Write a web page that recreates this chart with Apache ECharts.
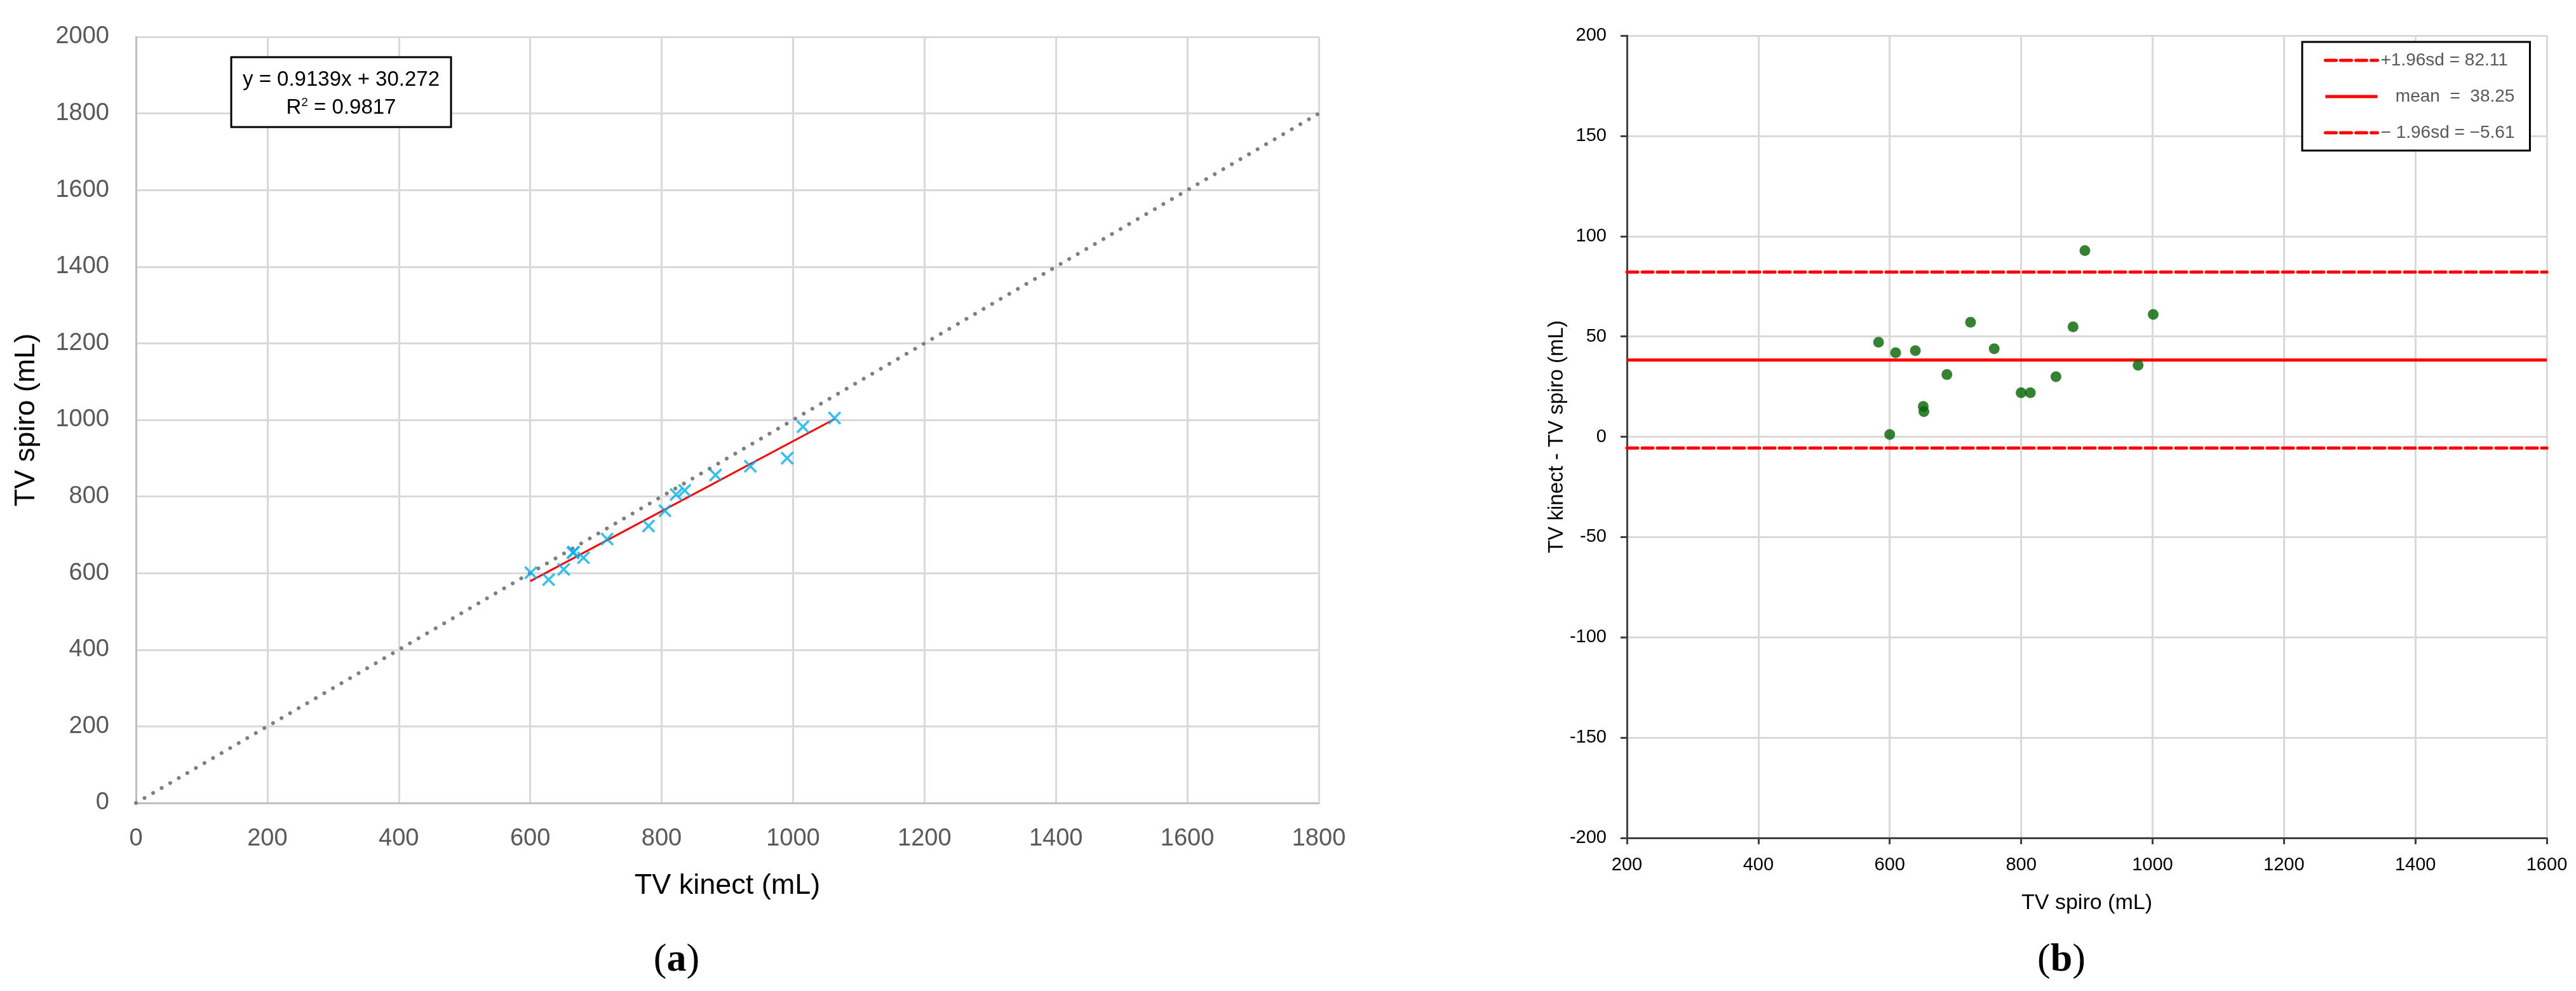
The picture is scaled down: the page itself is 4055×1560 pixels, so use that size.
<!DOCTYPE html>
<html>
<head>
<meta charset="utf-8">
<script src="https://cdn.jsdelivr.net/npm/echarts@6/dist/echarts.min.js"></script>
<style>
  html, body { margin: 0; padding: 0; background: #fff; }
  #chart { width: 4055px; height: 1560px; }
</style>
</head>
<body>
<div id="chart"></div>
<script>
// (a) TV kinect vs TV spiro
var kinectA = [601, 628, 651, 666, 665, 681, 717, 780, 805, 822, 835, 882, 935, 991, 1015, 1063];
var spiroA  = [601, 583, 610, 655, 653, 640, 689, 723, 763, 805, 816, 856, 879, 900, 982, 1005];
var identityX = [0, 1800];
var identityY = [0, 1800];
var trendX = [600, 1063];
var trendY = [579, 1002];
var eqText = 'y = 0.9139x + 30.272';
var r2Text = '0.9817';

// (b) Bland-Altman
var spiroB = [583, 609, 639, 651, 652, 687, 600, 723, 759, 800, 814, 853, 879, 897, 978, 1001];
var diffB  = [47.1, 41.9, 42.9, 15.1, 12.5, 31.0, 1.1, 57.1, 43.9, 21.9, 21.9, 29.9, 54.8, 92.8, 35.6, 61.0];
var limitNames  = ['+1.96sd = 82.11', '   mean  =  38.25', '\u2212 1.96sd = \u22125.61'];
var limitValues = [82.11, 38.25, -5.61];
var limitRange  = [200, 1600];

var FONT = 'Liberation Sans, Arial, sans-serif';
var SERIF = 'Liberation Serif, Times New Roman, serif';

function zip(a, b) {
  return a.map(function (v, i) { return [v, b[i]]; });
}
function plain(v) { return String(v); }

// X marker drawn as a filled polygon
var crossPath = 'path://M0,1.2L1.2,0L5,3.8L8.8,0L10,1.2L6.2,5L10,8.8L8.8,10L5,6.2L1.2,10L0,8.8L3.8,5Z';

var chart = echarts.init(document.getElementById('chart'));

var limitSeries = limitValues.map(function (v, i) {
  return {
    name: limitNames[i],
    type: 'line',
    xAxisIndex: 1,
    yAxisIndex: 1,
    symbol: 'none',
    silent: true,
    data: limitRange.map(function (x) { return [x, v]; }),
    itemStyle: { color: '#ff0000' },
    lineStyle: {
      color: '#ff0000',
      width: 5,
      type: i === 1 ? 'solid' : [17, 7],
      cap: i === 1 ? 'butt' : 'round'
    },
    z: 2
  };
});

var option = {
  backgroundColor: '#fff',
  animation: false,
  grid: [
    { left: 214, top: 58, width: 1862, height: 1206, containLabel: false },
    { left: 2561, top: 56, width: 1448, height: 1263, containLabel: false }
  ],
  xAxis: [{
    gridIndex: 0,
    type: 'value',
    min: 0, max: 1800, interval: 200,
    name: 'TV kinect (mL)',
    nameLocation: 'middle',
    nameGap: 108,
    nameTextStyle: { fontFamily: FONT, fontSize: 45, color: '#000' },
    axisLine: { show: true, lineStyle: { color: '#bfbfbf', width: 3 } },
    axisTick: { show: false },
    axisLabel: { fontFamily: FONT, fontSize: 38, color: '#595959', margin: 38, formatter: plain },
    splitLine: { show: true, lineStyle: { color: '#d9d9d9', width: 3 } }
  }, {
    gridIndex: 1,
    type: 'value',
    min: 200, max: 1600, interval: 200,
    name: 'TV spiro (mL)',
    nameLocation: 'middle',
    nameGap: 86,
    nameTextStyle: { fontFamily: FONT, fontSize: 34, color: '#000' },
    axisLine: { show: true, onZero: false, lineStyle: { color: '#404040', width: 3 } },
    axisTick: { show: true, length: 10, lineStyle: { color: '#404040', width: 3 } },
    axisLabel: { fontFamily: FONT, fontSize: 29, color: '#000', margin: 28, formatter: plain },
    splitLine: { show: true, lineStyle: { color: '#d9d9d9', width: 3 } }
  }],
  yAxis: [{
    gridIndex: 0,
    type: 'value',
    min: 0, max: 2000, interval: 200,
    name: 'TV spiro (mL)',
    nameLocation: 'middle',
    nameGap: 150,
    nameTextStyle: { fontFamily: FONT, fontSize: 45, color: '#000' },
    axisLine: { show: true, lineStyle: { color: '#bfbfbf', width: 3 } },
    axisTick: { show: false },
    axisLabel: { fontFamily: FONT, fontSize: 38, color: '#595959', margin: 42, formatter: plain },
    splitLine: { show: true, lineStyle: { color: '#d9d9d9', width: 3 } }
  }, {
    gridIndex: 1,
    type: 'value',
    min: -200, max: 200, interval: 50,
    name: 'TV kinect - TV spiro (mL)',
    nameLocation: 'middle',
    nameGap: 90,
    nameTextStyle: { fontFamily: FONT, fontSize: 33, color: '#000' },
    axisLine: { show: true, onZero: false, lineStyle: { color: '#404040', width: 3 } },
    axisTick: { show: true, length: 10, lineStyle: { color: '#404040', width: 3 } },
    axisLabel: { fontFamily: FONT, fontSize: 29, color: '#000', margin: 32, formatter: plain },
    splitLine: { show: true, lineStyle: { color: '#d9d9d9', width: 3 } }
  }],
  legend: {
    data: limitNames,
    orient: 'vertical',
    left: 3624,
    top: 66,
    width: 378,
    padding: [15, 24, 14, 34],
    itemWidth: 82,
    itemHeight: 14,
    itemGap: 29,
    borderColor: '#000',
    borderWidth: 3,
    backgroundColor: '#fff',
    selectedMode: false,
    itemStyle: { opacity: 0 },
    lineStyle: { width: 5 },
    textStyle: { fontFamily: FONT, fontSize: 28, color: '#595959' }
  },
  series: [{
    name: 'identity',
    type: 'line',
    xAxisIndex: 0,
    yAxisIndex: 0,
    symbol: 'none',
    silent: true,
    data: zip(identityX, identityY),
    lineStyle: { color: '#7f7f7f', width: 6, type: [0.1, 15.5], cap: 'round' },
    z: 2
  }, {
    name: 'trend',
    type: 'line',
    xAxisIndex: 0,
    yAxisIndex: 0,
    symbol: 'none',
    silent: true,
    data: zip(trendX, trendY),
    lineStyle: { color: '#ff0000', width: 3 },
    z: 3
  }, {
    name: 'kinect vs spiro',
    type: 'scatter',
    xAxisIndex: 0,
    yAxisIndex: 0,
    symbol: crossPath,
    symbolSize: 21,
    itemStyle: { color: '#00b0f0' },
    data: zip(kinectA, spiroA),
    z: 4
  }].concat(limitSeries).concat([{
    name: 'difference',
    type: 'scatter',
    xAxisIndex: 1,
    yAxisIndex: 1,
    symbol: 'circle',
    symbolSize: 17,
    itemStyle: { color: '#006400' },
    data: zip(spiroB, diffB),
    z: 4
  }]),
  graphic: [{
    type: 'rect',
    shape: { x: 364, y: 90, width: 346, height: 110 },
    style: { fill: '#fff', stroke: '#000', lineWidth: 3 },
    z: 10
  }, {
    type: 'text',
    x: 537, y: 126,
    style: {
      text: eqText,
      fontFamily: FONT, fontSize: 33, fill: '#000',
      align: 'center', verticalAlign: 'middle'
    },
    z: 11
  }, {
    type: 'text',
    x: 537, y: 170,
    style: {
      text: '{r|R}{s|2}{r| = ' + r2Text + '}',
      align: 'center', verticalAlign: 'middle',
      rich: {
        r: { fontFamily: FONT, fontSize: 33, fill: '#000', lineHeight: 36 },
        s: { fontFamily: FONT, fontSize: 19, fill: '#000', verticalAlign: 'top', lineHeight: 36 }
      }
    },
    z: 11
  }, {
    type: 'text',
    x: 1065, y: 1512,
    style: {
      text: '{p|(}{b|a}{p|)}',
      align: 'center', verticalAlign: 'middle',
      rich: {
        p: { fontFamily: SERIF, fontSize: 62, fill: '#000' },
        b: { fontFamily: SERIF, fontSize: 62, fontWeight: 'bold', fill: '#000' }
      }
    }
  }, {
    type: 'text',
    x: 3245, y: 1512,
    style: {
      text: '{p|(}{b|b}{p|)}',
      align: 'center', verticalAlign: 'middle',
      rich: {
        p: { fontFamily: SERIF, fontSize: 62, fill: '#000' },
        b: { fontFamily: SERIF, fontSize: 62, fontWeight: 'bold', fill: '#000' }
      }
    }
  }]
};

chart.setOption(option);
</script>
</body>
</html>
